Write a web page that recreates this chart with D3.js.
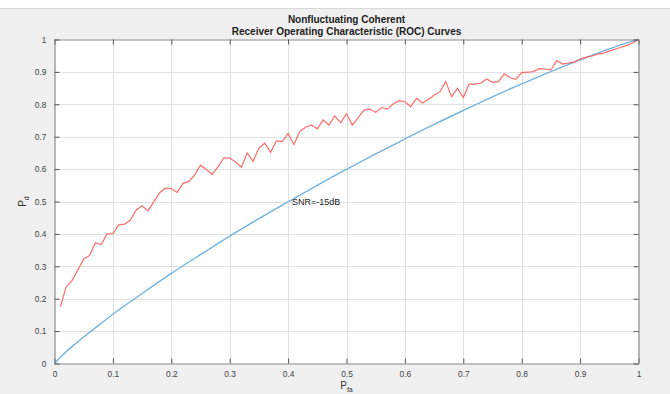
<!DOCTYPE html>
<html>
<head>
<meta charset="utf-8">
<script src="https://cdn.jsdelivr.net/npm/d3@7"></script>
<style>
  html, body { margin: 0; padding: 0; background: #f0f0f0; }
  svg { display: block; }
  text { font-family: "Liberation Sans", Arial, Helvetica, sans-serif; }
</style>
</head>
<body>
<svg id="chart" width="670" height="394"></svg>
<script>
// Probability of false alarm grid for the simulated curve
const pfaSim = d3.range(1, 101).map(i => i / 100);
// Simulated detection probability (Monte Carlo), one value per Pfa
const pdSim = [
  0.175, 0.237, 0.256, 0.289, 0.323, 0.333, 0.373, 0.367, 0.400, 0.401,
  0.428, 0.430, 0.443, 0.474, 0.487, 0.471, 0.499, 0.527, 0.541, 0.540,
  0.528, 0.556, 0.562, 0.582, 0.612, 0.599, 0.584, 0.607, 0.635, 0.634,
  0.622, 0.606, 0.650, 0.624, 0.665, 0.680, 0.652, 0.687, 0.685, 0.710,
  0.676, 0.716, 0.729, 0.736, 0.724, 0.752, 0.736, 0.764, 0.743, 0.771,
  0.736, 0.759, 0.782, 0.785, 0.775, 0.790, 0.785, 0.801, 0.811, 0.808,
  0.793, 0.818, 0.804, 0.815, 0.828, 0.839, 0.870, 0.823, 0.849, 0.821,
  0.862, 0.862, 0.865, 0.878, 0.868, 0.870, 0.894, 0.882, 0.877, 0.898,
  0.899, 0.901, 0.910, 0.909, 0.906, 0.935, 0.924, 0.927, 0.931, 0.940,
  0.945, 0.949, 0.955, 0.958, 0.964, 0.970, 0.976, 0.982, 0.989, 1.000
];
// Theoretical ROC curve (SNR = -15 dB)
const pfaTheory = [0, 0.01, 0.02, 0.03, 0.05, 0.075, 0.1, 0.15, 0.2, 0.25, 0.3, 0.35, 0.4,
  0.45, 0.5, 0.55, 0.6, 0.65, 0.7, 0.75, 0.8, 0.85, 0.9, 0.95, 0.99, 1];
const pdTheory = [0, 0.019, 0.036, 0.052, 0.082, 0.117, 0.152, 0.216, 0.278, 0.336, 0.393, 0.447, 0.499,
  0.550, 0.599, 0.647, 0.693, 0.738, 0.781, 0.823, 0.863, 0.901, 0.937, 0.971, 0.995, 1];

const xTicks = d3.range(0, 11).map(i => i / 10);
const yTicks = d3.range(0, 11).map(i => i / 10);
const xTickLabels = ["0", "0.1", "0.2", "0.3", "0.4", "0.5", "0.6", "0.7", "0.8", "0.9", "1"];
const yTickLabels = ["0", "0.1", "0.2", "0.3", "0.4", "0.5", "0.6", "0.7", "0.8", "0.9", "1"];
const titleLines = ["Nonfluctuating Coherent", "Receiver Operating Characteristic (ROC) Curves"];
const curveLabel = { pfa: 0.4, pd: 0.5, text: "SNR=-15dB" };

const svg = d3.select("#chart");
const W = 670, H = 394;
const plotL = 54.5, plotR = 638.5, plotT = 39.5, plotB = 363.5;

// window strip at the top
svg.append("rect").attr("x", 0).attr("y", 0).attr("width", W).attr("height", 8).attr("fill", "#ffffff");
svg.append("line").attr("x1", 0).attr("x2", W).attr("y1", 8.5).attr("y2", 8.5).attr("stroke", "#d8d8d8");

const x = d3.scaleLinear().domain([0, 1]).range([plotL, plotR]);
const y = d3.scaleLinear().domain([0, 1]).range([plotB, plotT]);

// axes background
svg.append("rect").attr("x", plotL).attr("y", plotT)
  .attr("width", plotR - plotL).attr("height", plotB - plotT).attr("fill", "#ffffff");

// grid
const grid = svg.append("g").attr("stroke", "#e1e1e1").attr("stroke-width", 1);
grid.selectAll("line.gx").data(xTicks.slice(1, -1)).join("line")
  .attr("x1", d => Math.round(x(d)) + 0.5).attr("x2", d => Math.round(x(d)) + 0.5)
  .attr("y1", plotT).attr("y2", plotB);
grid.selectAll("line.gy").data(yTicks.slice(1, -1)).join("line")
  .attr("y1", d => Math.round(y(d)) + 0.5).attr("y2", d => Math.round(y(d)) + 0.5)
  .attr("x1", plotL).attr("x2", plotR);

// curves
svg.append("clipPath").attr("id", "plotclip").append("rect")
  .attr("x", plotL).attr("y", plotT - 1).attr("width", plotR - plotL).attr("height", plotB - plotT + 1);

svg.append("path")
  .datum(pfaTheory.map((p, i) => [p, pdTheory[i]]))
  .attr("d", d3.line().x(d => x(d[0])).y(d => y(d[1])).curve(d3.curveMonotoneX))
  .attr("fill", "none").attr("stroke", "#72b4e0").attr("stroke-width", 1.4)
  .attr("clip-path", "url(#plotclip)");

svg.append("path")
  .datum(pfaSim.map((p, i) => [p, pdSim[i]]))
  .attr("d", d3.line().x(d => x(d[0])).y(d => y(d[1])))
  .attr("fill", "none").attr("stroke", "#ff5c5c").attr("stroke-width", 1.2)
  .attr("stroke-opacity", 0.9)
  .attr("clip-path", "url(#plotclip)");

// axes with inward ticks on all four sides
function styleAxis(g) {
  g.select(".domain").attr("stroke", "#8a8a8a").attr("stroke-width", 1.2);
  g.selectAll(".tick line").attr("stroke", "#555555");
  g.selectAll(".tick text").attr("fill", "#444444").attr("font-size", "8.4px")
    .attr("font-family", "'Liberation Sans', Arial, sans-serif");
}
const xb = svg.append("g").attr("transform", `translate(0,${plotB})`)
  .call(d3.axisBottom(x).tickValues(xTicks).tickSizeInner(-5).tickSizeOuter(0).tickPadding(8)
    .tickFormat((d, i) => xTickLabels[i]));
styleAxis(xb);
const xt = svg.append("g").attr("transform", `translate(0,${plotT})`)
  .call(d3.axisTop(x).tickValues(xTicks).tickSizeInner(-5).tickSizeOuter(0).tickFormat(""));
styleAxis(xt);
const yl = svg.append("g").attr("transform", `translate(${plotL},0)`)
  .call(d3.axisLeft(y).tickValues(yTicks).tickSizeInner(-5).tickSizeOuter(0).tickPadding(8)
    .tickFormat((d, i) => yTickLabels[i]));
styleAxis(yl);
const yr = svg.append("g").attr("transform", `translate(${plotR},0)`)
  .call(d3.axisRight(y).tickValues(yTicks).tickSizeInner(-5).tickSizeOuter(0).tickFormat(""));
styleAxis(yr);

// title
svg.append("g").selectAll("text").data(titleLines).join("text")
  .attr("x", (plotL + plotR) / 2).attr("y", (d, i) => 23 + i * 12)
  .attr("text-anchor", "middle").attr("font-weight", "bold").attr("font-size", "10px")
  .attr("fill", "#222222").text(d => d);

// axis labels with subscripts
const xl = svg.append("text").attr("x", (plotL + plotR) / 2).attr("y", 389)
  .attr("text-anchor", "middle").attr("font-size", "10px").attr("fill", "#333");
xl.append("tspan").text("P");
xl.append("tspan").attr("font-size", "7px").attr("dy", 3).text("fa");

const ylab = svg.append("text")
  .attr("transform", `translate(26,${(plotT + plotB) / 2}) rotate(-90)`)
  .attr("text-anchor", "middle").attr("font-size", "10px").attr("fill", "#333");
ylab.append("tspan").text("P");
ylab.append("tspan").attr("font-size", "7px").attr("dy", 3).text("d");

// curve annotation
svg.append("text").attr("x", x(curveLabel.pfa) + 4).attr("y", y(curveLabel.pd) + 3.5)
  .attr("font-size", "9px").attr("fill", "#222").text(curveLabel.text);
</script>
</body>
</html>
